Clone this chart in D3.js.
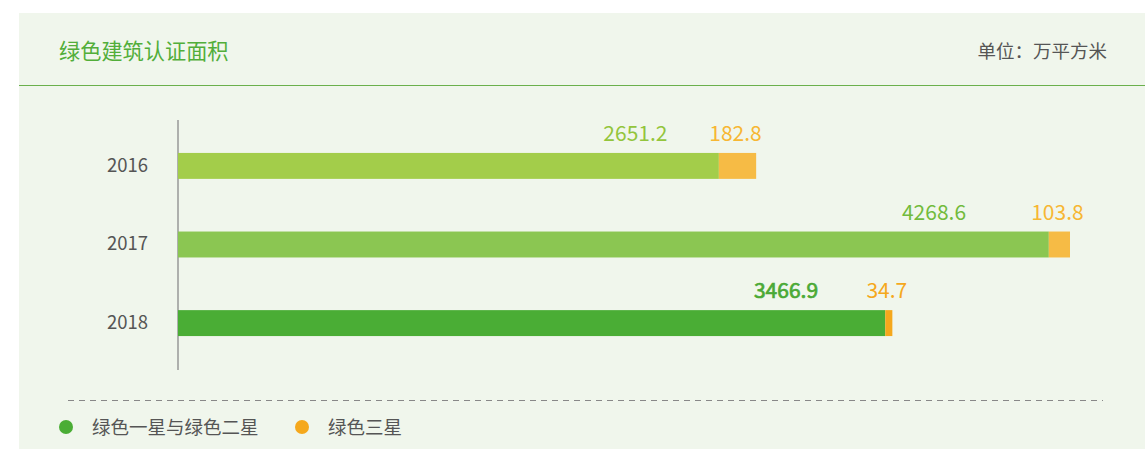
<!DOCTYPE html>
<html><head><meta charset="utf-8">
<script src="https://cdn.jsdelivr.net/npm/d3@7"></script>
<style>
html,body{margin:0;padding:0;background:#fff;}
svg{display:block;font-family:"Noto Sans CJK SC","Noto Sans",sans-serif;}
</style></head>
<body>
<svg id="chart" width="1145" height="449"></svg>
<script>
const categories = ["2016", "2017", "2018"];
const seriesNames = ["绿色一星与绿色二星", "绿色三星"];
const oneTwoStar = [2651.2, 4268.6, 3466.9];
const threeStar = [182.8, 103.8, 34.7];
const greenFills = ["#a3cd4a", "#8bc652", "#4aad35"];
const orangeFills = ["#f6bb45", "#f6bb45", "#f5a81c"];
const greenLabelFills = ["#93c53c", "#72bb3c", "#4aa935"];
const orangeLabelFills = ["#f7b733", "#f7b733", "#f5a81c"];
const legendColors = ["#4aad35", "#f5a81c"];
const titleText = "绿色建筑认证面积";
const unitText = "单位：万平方米";

const svg = d3.select("#chart");
svg.append("rect").attr("x", 19).attr("y", 13).attr("width", 1126).attr("height", 436).attr("fill", "#f0f6ec");
svg.append("text").attr("x", 59).attr("y", 59).attr("font-size", 21.2).attr("fill", "#52ae3a").text(titleText);
svg.append("text").attr("x", 1107).attr("y", 58).attr("text-anchor", "end").attr("font-size", 18.5).attr("fill", "#555").text(unitText);
svg.append("line").attr("x1", 19).attr("x2", 1145).attr("y1", 85.5).attr("y2", 85.5).attr("stroke", "#6ab04c").attr("stroke-width", 1.2);

const totals = oneTwoStar.map((v, i) => v + threeStar[i]);
const x = d3.scaleLinear().domain([0, d3.max(totals)]).range([178, 1070]);
const y = d3.scaleBand().domain(categories).range([127, 362]).paddingInner(0.67).paddingOuter(0.33);

const yAxis = d3.axisLeft(y).tickSize(0).tickPadding(30);
const gy = svg.append("g").attr("transform", "translate(178,0)").call(yAxis);
gy.select(".domain").remove();
gy.selectAll("text").attr("font-size", 18.5).attr("fill", "#555").attr("font-family", "'Noto Sans CJK SC',sans-serif");
svg.append("line").attr("x1", 178).attr("x2", 178).attr("y1", 120).attr("y2", 370).attr("stroke", "#999").attr("stroke-width", 1.5);

const rows = categories.map((c, i) => ({c, i, g: oneTwoStar[i], o: threeStar[i]}));
const bars = svg.append("g");
bars.selectAll("rect.g").data(rows).join("rect").attr("class", "g")
  .attr("x", x(0)).attr("y", d => y(d.c)).attr("height", y.bandwidth())
  .attr("width", d => x(d.g) - x(0)).attr("fill", d => greenFills[d.i]);
bars.selectAll("rect.o").data(rows).join("rect").attr("class", "o")
  .attr("x", d => x(d.g)).attr("y", d => y(d.c)).attr("height", y.bandwidth())
  .attr("width", d => x(d.g + d.o) - x(d.g)).attr("fill", d => orangeFills[d.i]);

bars.selectAll("text.gl").data(rows).join("text").attr("class", "gl")
  .attr("x", d => x(d.g * 0.905)).attr("y", d => y(d.c) - 12)
  .attr("text-anchor", "end").attr("font-size", 21)
  .attr("stroke", d => d.i === 2 ? greenLabelFills[d.i] : "none")
  .attr("stroke-width", 0.7)
  .attr("fill", d => greenLabelFills[d.i]).text(d => d.g.toFixed(1));
bars.selectAll("text.ol").data(rows).join("text").attr("class", "ol")
  .attr("x", d => (x(d.g) + x(d.g + d.o)) / 2 - 2).attr("y", d => y(d.c) - 12)
  .attr("text-anchor", "middle").attr("font-size", 21)
  .attr("fill", d => orangeLabelFills[d.i]).text(d => d.o.toFixed(1));

svg.append("line").attr("x1", 68).attr("x2", 1103).attr("y1", 400.5).attr("y2", 400.5)
  .attr("stroke", "#888").attr("stroke-width", 1).attr("stroke-dasharray", "6,5");

const legendX = [66, 302];
const lg = svg.append("g");
seriesNames.forEach((n, i) => {
  lg.append("circle").attr("cx", legendX[i]).attr("cy", 427).attr("r", 7).attr("fill", legendColors[i]);
  lg.append("text").attr("x", legendX[i] + 26).attr("y", 433.5).attr("font-size", 18.5).attr("fill", "#555").text(n);
});
</script>
</body></html>
